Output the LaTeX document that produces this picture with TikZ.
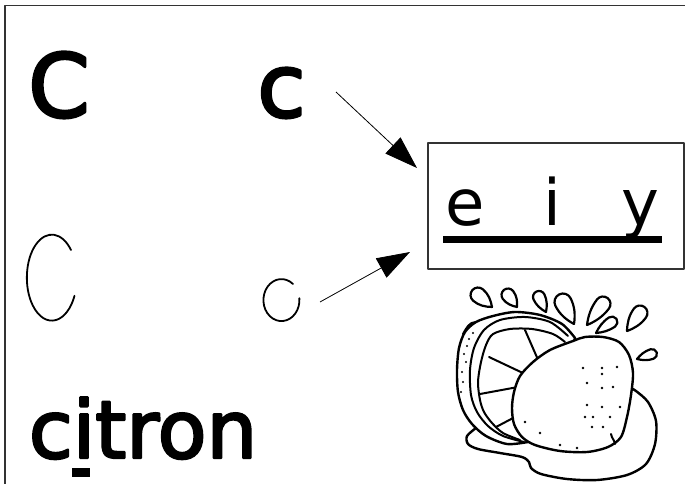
\documentclass[tikz,border=0pt]{standalone}
\usepackage{fontspec}
\setmainfont{DejaVu Sans}
\newfontfamily\heavy[FakeBold=3]{DejaVu Sans}
\usetikzlibrary{calc}
\usetikzlibrary{arrows.meta}
\usetikzlibrary{positioning}
\colorlet{colorFrame}{black!80}
\colorlet{colorInk}{black}
\tikzset{
   every path/.style={line join=round},
   frame/.style={color=colorFrame,line width=1.6pt},
   glyph/.style={inner sep=0pt,anchor=base,font=\heavy\fontsize{88}{88}\selectfont},
   tag/.style={inner sep=0pt,anchor=base,font=\fontsize{64}{64}\selectfont},
   word/.style={inner sep=0pt,anchor=base,font=\heavy\fontsize{80}{80}\selectfont},
   hand/.style={line width=1.8pt,line cap=round},
   arr/.style={-{Triangle[length=33pt,width=22pt]},line width=0.8pt},
   peel/.style={line width=2.4pt,draw=colorInk,fill=white},
   rib/.style={line width=2pt,draw=colorInk,line cap=round},
   drop/.style={line width=2.2pt,draw=colorInk},
}
% teardrop: tip, direction, tip-to-bulb length, bulb radius
\newcommand{\splash}[4]{\draw[drop,shift={(#1)},rotate=#2] (0,0) .. controls (0.3*#3,-0.6*#4) and (0.6*#3,-#4) .. (#3,-#4) arc[start angle=-90,end angle=90,radius=#4] .. controls (0.6*#3,#4) and (0.3*#3,0.6*#4) .. (0,0) -- cycle;}

\begin{document}
\begin{tikzpicture}[x=1pt,y=1pt,yscale=-1]
        \useasboundingbox (0,0) rectangle (685,484);
        \draw[frame] (5,490) -- (5,5.5) -- (690,5.5);

        \node[glyph] (bigC) at (59,117) {C};
        \node[glyph] (smallc) at (281.5,117) {c};

        % hand written letters
        \draw[hand] (71,250) arc[start angle=-40,end angle=-335,x radius=25,y radius=43];
        \draw[hand] (293,284) arc[start angle=-50,end angle=-365,x radius=18,y radius=21];

        \node[word] (citron) at (143,458) {citron};
        \fill (72,468) rectangle (90,477);

        % sound box
        \node[draw=colorFrame,line width=1.2pt,minimum width=256pt,minimum height=126pt,inner sep=0pt] (eiy) at (556,206) {};
        \node[tag] (le) at (465.5,225) {e};
        \node[tag] (li) at (552,225) {i};
        \node[tag] (ly) at (640,225) {y};
        \draw[line width=7pt] (443,239.5) -- (662,239.5);

        \coordinate (a1) at (336,92);
        \coordinate (a1e) at (417,168);
        \coordinate (a2) at (320,302);
        \coordinate (a2e) at (410,252);
        \draw[arr] (a1) -- (a1e);
        \draw[arr] (a2) -- (a2e);

        % lemon
        \draw[peel] plot[smooth] coordinates {(476,428) (467,436) (468,444) (478,449) (500,453) (522,457) (529,462) (531,468) (541,474) (567,479) (597,480) (627,475) (646,464) (655,444) (656,421) (648,402) (636,391) (631,388)} -- (600,430) -- (500,432) -- cycle;
        \draw[peel] plot[smooth] coordinates {(575,338) (562,324) (540,315) (515,312) (493,316) (476,322) (465,332) (459,348) (457,370) (458,392) (463,410) (472,424) (486,436) (507,444) (528,442)} -- (550,420) -- cycle;
        \draw[rib] (463,334) to[out=-60,in=180] (476,322);
        \draw[rib] plot[smooth] coordinates {(568,336) (550,322) (525,317) (500,320) (484,330) (474,348) (470,370) (471,395) (477,412) (488,426) (503,436) (524,442)};
        \draw[rib] plot[smooth] coordinates {(565,342) (553,334) (532,329) (510,329) (493,334) (486,345) (481,362) (478,382) (480,400) (484,412) (492,423) (503,433) (520,440)};
        \draw[rib] (525,330) -- (539,362);
        \draw[rib] (489,357) -- (525,374);
        \draw[rib] (480,394) -- (518,387);
        \draw[rib] (496,427) -- (515,417);
        \foreach \p in {(473,333),(469,339),(467,346),(464,354),(466,362),(462,372),(463,382),(461,392)}
          \fill \p circle[radius=1.2];

        \draw[peel] plot[smooth cycle] coordinates {(573,341) (585,337) (603,337) (619,342) (629,355) (633,373) (631,395) (627,417) (621,437) (608,447) (587,452) (560,451) (535,445) (522,437) (514,424) (512,408) (514,392) (520,376) (533,362) (550,350)};
        \draw[rib] (611,434) to[out=80,in=-100] (615,444);
        \foreach \p in {(583,368),(602,368),(617,367),(602,374),(587,383),(602,388),(613,387),(587,405),(602,407),(620,407),(585,417),(593,417),(610,417),(592,427),(603,427),(525,422),(540,433),(560,445),(577,448)}
          \fill \p circle[radius=1.3];

        \splash{492,307}{-139.4}{18.4}{7.5}
        \splash{517,307}{-126.9}{15}{6.5}
        \splash{546,312}{-115}{16.6}{6}
        \splash{574,324}{-116.6}{24.6}{8.5}
        \splash{587,325}{-52.7}{26.4}{7.5}
        \splash{596,333}{-34.5}{19.4}{5.5}
        \splash{627,331}{-54.2}{22.2}{7.5}
        \splash{637,359}{-18.4}{15.8}{5}

      \end{tikzpicture}
\end{document}
